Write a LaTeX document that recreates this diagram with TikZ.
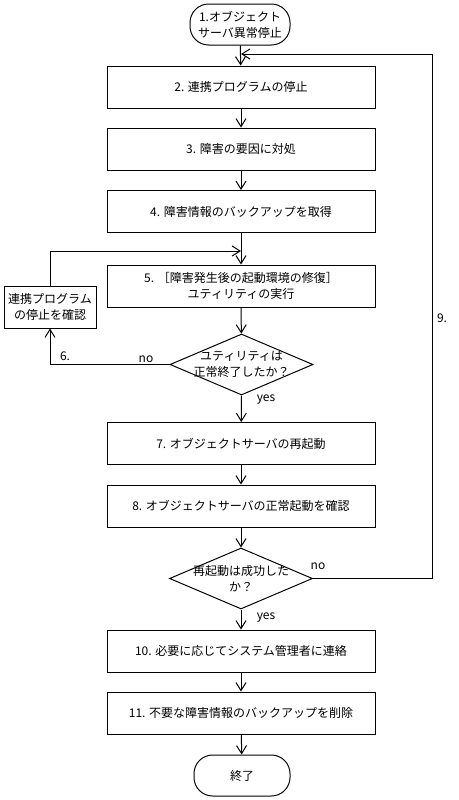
\documentclass[tikz,border=0pt]{standalone}
\usepackage{fontspec}
\setmainfont{Noto Sans CJK JP}
\usetikzlibrary{arrows.meta,shapes.geometric}

\begin{document}
\begin{tikzpicture}[x=0.75pt, y=-0.75pt, line width=0.75pt,
  every node/.style={font=\fontsize{9pt}{12pt}\selectfont},
  stepbox/.style={draw, minimum width=201pt, minimum height=31.5pt, align=center, inner sep=0pt},
  term/.style={draw, rounded corners=14pt, minimum height=30.75pt, align=center, inner sep=0pt},
  decision/.style={draw, diamond, minimum width=107.25pt, minimum height=45.75pt, inner sep=0pt},
  flow/.style={-{Straight Barb[length=6pt,width=7.5pt]}}]

\useasboundingbox (0,0) rectangle (459,800);

\node[term, minimum width=75pt] (start) at (240,24.5) {1.オブジェクト\\サーバ異常停止};
\node[stepbox] (s2) at (241,87) {2. 連携プログラムの停止};
\node[stepbox] (s3) at (241,149) {3. 障害の要因に対処};
\node[stepbox] (s4) at (241,211.5) {4. 障害情報のバックアップを取得};
\node[stepbox] (s5) at (241,286) {5. ［障害発生後の起動環境の修復］\\ユティリティの実行};
\node[draw, minimum width=69pt, minimum height=31.5pt, align=center, inner sep=0pt] (chk) at (50,307) {連携プログラム\\の停止を確認};
\node[decision] (q1) at (241.5,364.5) {};
\node[align=center] (q1t) at (q1) {ユティリティは\\正常終了したか？};
\node[stepbox] (s7) at (241,443.5) {7. オブジェクトサーバの再起動};
\node[stepbox] (s8) at (241,506) {8. オブジェクトサーバの正常起動を確認};
\node[decision] (q2) at (241,578.5) {};
\node[align=center] (q2t) at (q2) {再起動は成功した\\か？};
\node[stepbox] (s10) at (241,651) {10. 必要に応じてシステム管理者に連絡};
\node[stepbox] (s11) at (241,713) {11. 不要な障害情報のバックアップを削除};
\node[term, minimum width=72pt] (stop) at (242,775.5) {終了};

\coordinate (j5) at (241,251);
\coordinate (j2) at (241,54);

\node (l6) at (65,356) {6.};
\node (no1) at (146,359) {no};
\node (yes1) at (266,400) {yes};
\node (no2) at (318,566) {no};
\node (l9) at (442,318) {9.};
\node (yes2) at (266,618) {yes};

\begin{scope}[flow]
\draw (start) -- (s2);
\draw (s2) -- (s3);
\draw (s3) -- (s4);
\draw (s4) -- (s5);
\draw (s5) -- (q1);
\draw (q1.west) -| (chk.south);
\draw (chk.north) |- (j5);
\draw (q1.south) -- (s7);
\draw (s7) -- (s8);
\draw (s8) -- (q2);
\draw (q2.east) -- ++(119,0) |- (j2);
\draw (q2.south) -- (s10);
\draw (s10) -- (s11);
\draw (s11) -- (stop);
\end{scope}

\end{tikzpicture}
\end{document}
